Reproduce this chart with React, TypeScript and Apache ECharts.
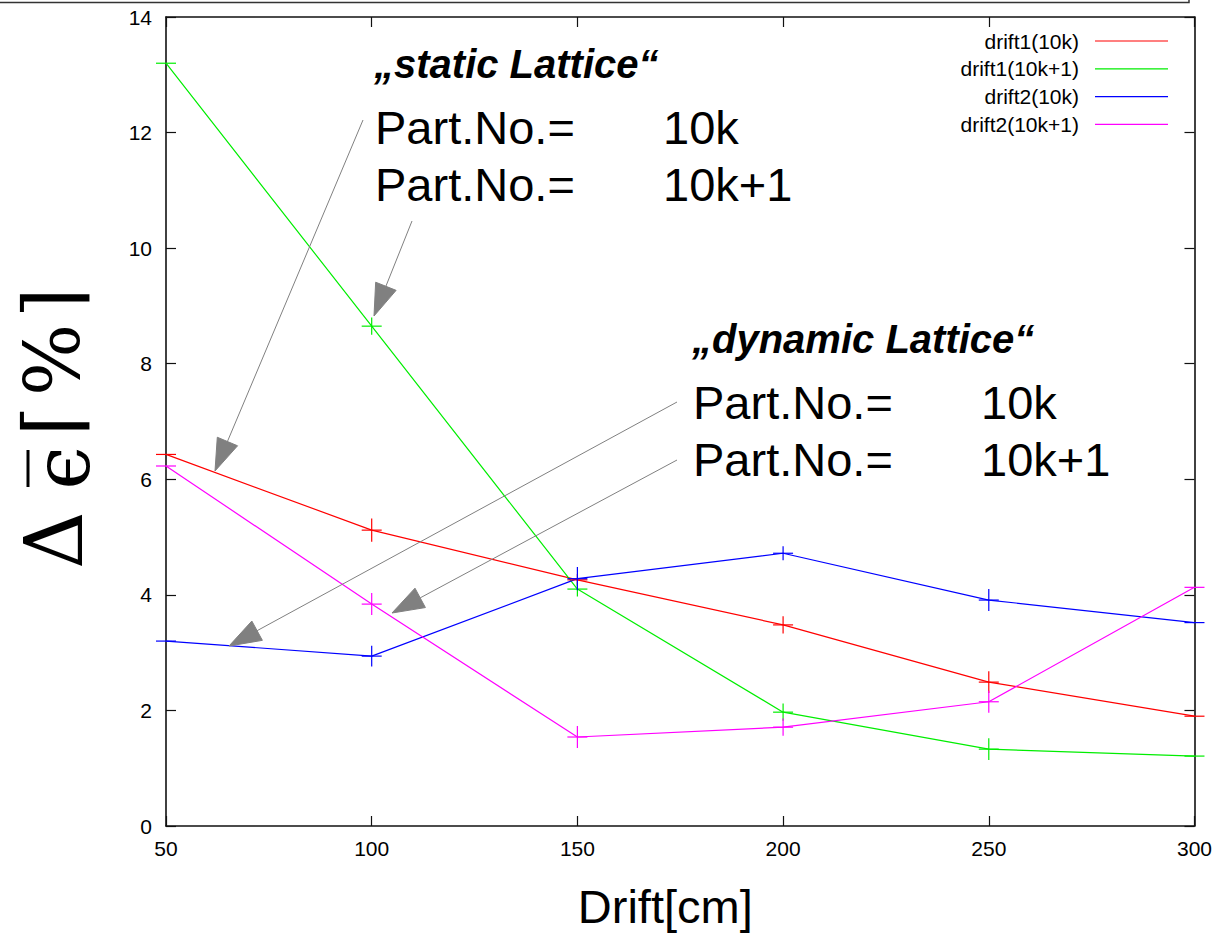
import React, { useEffect, useRef } from "react";
import * as echarts from "echarts";

// Drift lengths [cm]
const drift = [50, 100, 150, 200, 250, 300];

// Relative emittance growth Δϵ̄ [%]
const drift1_10k = [6.43, 5.12, 4.26, 3.48, 2.49, 1.9];
const drift1_10k1 = [13.2, 8.65, 4.1, 1.97, 1.33, 1.21];
const drift2_10k = [3.2, 2.94, 4.28, 4.72, 3.91, 3.52];
const drift2_10k1 = [6.23, 3.84, 1.54, 1.71, 2.15, 4.13];

// Error half-widths for each point
const err1_10k = [0, 0.2, 0.1, 0.15, 0.19, 0];
const err1_10k1 = [0, 0.15, 0.13, 0.15, 0.19, 0];
const err2_10k = [0, 0.18, 0.2, 0.12, 0.19, 0];
const err2_10k1 = [0, 0.19, 0.19, 0.15, 0.19, 0];

const seriesNames = ["drift1(10k)", "drift1(10k+1)", "drift2(10k)", "drift2(10k+1)"];
const seriesValues = [drift1_10k, drift1_10k1, drift2_10k, drift2_10k1];
const seriesErrors = [err1_10k, err1_10k1, err2_10k, err2_10k1];
const seriesColors = ["#ff0000", "#00ee00", "#0000ff", "#ff00ff"];

const xTicks = { min: 50, max: 300, step: 50 };
const yTicks = { min: 0, max: 14, step: 2 };

const SANS = "Liberation Sans, Arial, Helvetica, sans-serif";
const SERIF = "DejaVu Serif, Liberation Serif, serif";
const GRAY = "#808080";

// Arrow from (x1,y1) to tip (x2,y2) with a filled triangular head
function arrow(x1: number, y1: number, x2: number, y2: number) {
  const len = 32;
  const hw = 11;
  const dx = x2 - x1;
  const dy = y2 - y1;
  const d = Math.hypot(dx, dy);
  const ux = dx / d;
  const uy = dy / d;
  const bx = x2 - ux * len;
  const by = y2 - uy * len;
  return [
    {
      type: "line",
      shape: { x1, y1, x2: bx, y2: by },
      style: { stroke: GRAY, lineWidth: 1 },
      z: 10,
    },
    {
      type: "polygon",
      shape: {
        points: [
          [x2, y2],
          [bx - uy * hw, by + ux * hw],
          [bx + uy * hw, by - ux * hw],
        ],
      },
      style: { fill: GRAY, stroke: GRAY, lineWidth: 1 },
      z: 10,
    },
  ];
}

export default function App() {
  const ref = useRef<HTMLDivElement>(null);

  useEffect(() => {
    if (!ref.current) return;
    const chart = echarts.init(ref.current, null, { renderer: "svg" });

    const lineSeries = seriesNames.map((name, i) => ({
      name,
      type: "line",
      data: drift.map((x, j) => [x, seriesValues[i][j]]),
      symbol: "none",
      lineStyle: { color: seriesColors[i], width: 1.2 },
      itemStyle: { color: seriesColors[i] },
      z: 3,
    }));

    const barSeries = seriesNames.map((name, i) => ({
      name: name + " err",
      type: "custom",
      clip: false,
      data: drift.map((x, j) => [x, seriesValues[i][j], seriesErrors[i][j]]),
      encode: { x: 0, y: 1 },
      renderItem: (params: any, api: any) => {
        const x = api.value(0);
        const y = api.value(1);
        const e = api.value(2);
        const p = api.coord([x, y]);
        const children: any[] = [
          {
            type: "line",
            shape: { x1: p[0] - 10, y1: p[1], x2: p[0] + 10, y2: p[1] },
            style: { stroke: seriesColors[i], lineWidth: 1.2 },
          },
        ];
        if (e > 0) {
          const hi = api.coord([x, y + e]);
          const lo = api.coord([x, y - e]);
          children.push({
            type: "line",
            shape: { x1: p[0], y1: hi[1], x2: p[0], y2: lo[1] },
            style: { stroke: seriesColors[i], lineWidth: 1.2 },
          });
        }
        return { type: "group", children };
      },
      z: 4,
    }));

    const legendItems: any[] = [];
    seriesNames.forEach((name, i) => {
      const y = 41 + 27.8 * i;
      legendItems.push({
        type: "text",
        x: 1079,
        y,
        style: {
          text: name,
          fill: "#000",
          font: `21px ${SANS}`,
          textAlign: "right",
          textVerticalAlign: "middle",
        },
      });
      legendItems.push({
        type: "line",
        shape: { x1: 1095, y1: y, x2: 1168, y2: y },
        style: { stroke: seriesColors[i], lineWidth: 1.2 },
      });
    });

    const textBlock = (text: string, x: number, y: number, font: string) => ({
      type: "text",
      x,
      y,
      style: { text, fill: "#000", font, textAlign: "left", textVerticalAlign: "middle" },
      z: 10,
    });

    const titleFont = `italic bold 40px ${SANS}`;
    const bodyFont = `47px ${SANS}`;

    // Rotated y-axis label pieces, read bottom to top
    const yName = (text: string, x: number, y: number, size: number) => ({
      type: "text",
      x,
      y,
      rotation: Math.PI / 2,
      style: {
        text,
        fill: "#000",
        font: `${size}px ${SERIF}`,
        textAlign: "center",
        textVerticalAlign: "middle",
      },
    });

    const graphic: any[] = [
      // frame edge along the top of the page
      {
        type: "polyline",
        shape: { points: [[0, 2.5], [1189, 2.5], [1189, 0]] },
        style: { stroke: "#333", lineWidth: 1.5, fill: "none" },
      },
      ...legendItems,
      textBlock("„static Lattice“", 374, 64, titleFont),
      textBlock("Part.No.=", 375, 127, bodyFont),
      textBlock("10k", 663, 127, bodyFont),
      textBlock("Part.No.=", 375, 184, bodyFont),
      textBlock("10k+1", 663, 184, bodyFont),
      textBlock("„dynamic Lattice“", 692, 339, titleFont),
      textBlock("Part.No.=", 693, 402, bodyFont),
      textBlock("10k", 981, 402, bodyFont),
      textBlock("Part.No.=", 693, 459, bodyFont),
      textBlock("10k+1", 981, 459, bodyFont),
      ...arrow(363, 120, 215, 471),
      ...arrow(412, 221, 374, 316),
      ...arrow(677, 402, 229, 646),
      ...arrow(677, 460, 392, 613),
      yName("Δ", 54, 540, 80),
      yName("ϵ", 62, 468, 78),
      {
        type: "line",
        shape: { x1: 28, y1: 450, x2: 28, y2: 487 },
        style: { stroke: "#000", lineWidth: 3 },
      },
      yName("⌈", 52, 421, 78),
      yName("%", 52, 360, 76),
      yName("⌉", 52, 303, 78),
    ];

    chart.setOption({
      animation: false,
      textStyle: { fontFamily: SANS },
      grid: { left: 166, right: 20, top: 17, bottom: 112, show: false },
      xAxis: [
        {
          type: "value",
          min: xTicks.min,
          max: xTicks.max,
          interval: xTicks.step,
          position: "bottom",
          name: "Drift[cm]",
          nameLocation: "middle",
          nameGap: 57,
          nameTextStyle: { fontSize: 47, color: "#000", fontFamily: SANS, padding: [0, 30, 0, 0] },
          axisLine: { show: true, onZero: false, lineStyle: { color: "#111", width: 1.6 } },
          axisTick: { show: true, inside: true, length: 10, lineStyle: { color: "#111", width: 1.2 } },
          axisLabel: { fontSize: 21, color: "#000", margin: 12, fontFamily: SANS },
          splitLine: { show: false },
        },
        {
          type: "value",
          min: xTicks.min,
          max: xTicks.max,
          interval: xTicks.step,
          position: "top",
          axisLine: { show: true, onZero: false, lineStyle: { color: "#111", width: 1.6 } },
          axisTick: { show: true, inside: true, length: 10, lineStyle: { color: "#111", width: 1.2 } },
          axisLabel: { show: false },
          splitLine: { show: false },
        },
      ],
      yAxis: [
        {
          type: "value",
          min: yTicks.min,
          max: yTicks.max,
          interval: yTicks.step,
          position: "left",
          axisLine: { show: true, onZero: false, lineStyle: { color: "#111", width: 1.6 } },
          axisTick: { show: true, inside: true, length: 10, lineStyle: { color: "#111", width: 1.2 } },
          axisLabel: { fontSize: 21, color: "#000", margin: 14, fontFamily: SANS },
          splitLine: { show: false },
        },
        {
          type: "value",
          min: yTicks.min,
          max: yTicks.max,
          interval: yTicks.step,
          position: "right",
          axisLine: { show: true, onZero: false, lineStyle: { color: "#111", width: 1.6 } },
          axisTick: { show: true, inside: true, length: 10, lineStyle: { color: "#111", width: 1.2 } },
          axisLabel: { show: false },
          splitLine: { show: false },
        },
      ],
      series: [...lineSeries, ...barSeries],
      graphic,
    });

    return () => chart.dispose();
  }, []);

  return (
    <div
      ref={ref}
      style={{ position: "fixed", left: 0, top: 0, width: 1215, height: 938, background: "#fff" }}
    />
  );
}
